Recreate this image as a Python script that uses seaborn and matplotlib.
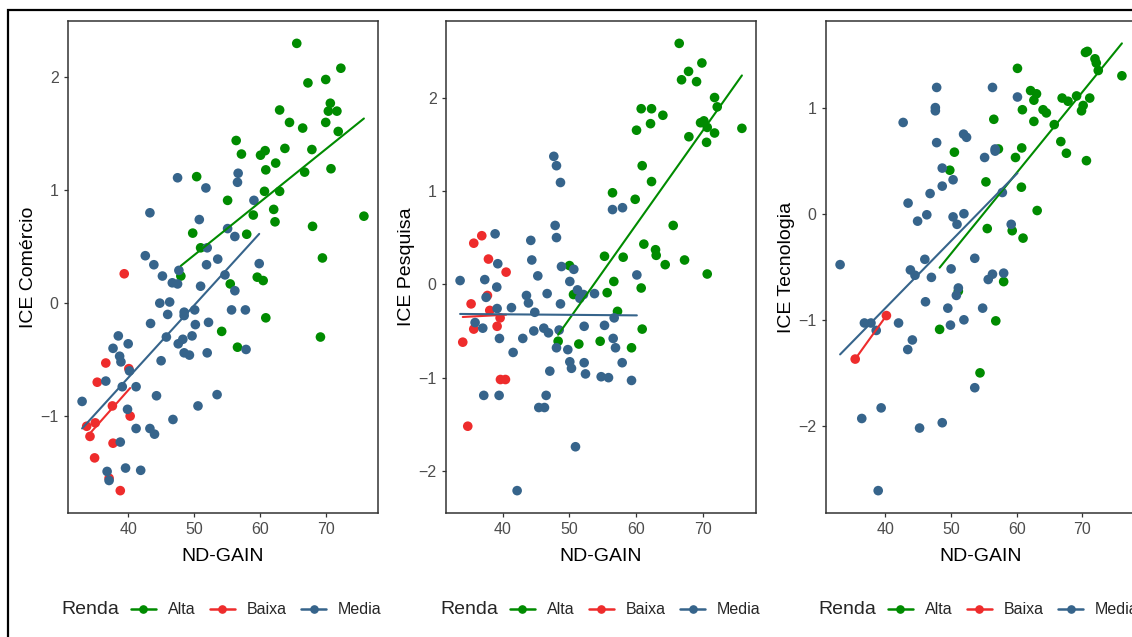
import numpy as np
import pandas as pd
import matplotlib
matplotlib.use("Agg")
import matplotlib.pyplot as plt
from matplotlib.lines import Line2D
from matplotlib.patches import Rectangle
from matplotlib.ticker import MultipleLocator
import seaborn as sns

# ── Data: ICE Comércio ───────────────────────────────────────────────────────
com_alta_x = [65.6, 67.3, 70.0, 72.3, 70.7, 70.4, 71.7, 63.0, 64.5, 66.5, 70.0, 71.9, 56.4, 57.2, 60.1,
              60.8, 63.8, 67.9, 62.4, 60.9, 66.8, 70.8, 50.4, 60.7, 63.0, 55.1, 59.0, 62.1, 62.3, 68.0,
              75.8, 49.8, 58.0, 51.0, 69.5, 48.0, 55.5, 59.6, 60.5, 60.9, 54.2, 56.6, 69.2]
com_alta_y = [2.30, 1.95, 1.98, 2.08, 1.77, 1.70, 1.70, 1.71, 1.60, 1.55, 1.60, 1.52, 1.44, 1.32, 1.31,
              1.35, 1.37, 1.36, 1.24, 1.18, 1.16, 1.19, 1.12, 0.99, 0.99, 0.91, 0.78, 0.83, 0.72, 0.68,
              0.77, 0.62, 0.61, 0.49, 0.40, 0.24, 0.17, 0.23, 0.20, -0.13, -0.25, -0.39, -0.30]
com_baixa_x = [39.4, 36.6, 40.1, 35.3, 37.6, 40.3, 35.0, 33.7, 34.2, 37.7, 34.9, 38.8, 37.1]
com_baixa_y = [0.26, -0.53, -0.58, -0.70, -0.91, -1.00, -1.06, -1.09, -1.18, -1.24, -1.37, -1.66, -1.55]
com_media_x = [47.5, 51.8, 56.7, 56.6, 43.3, 50.8, 55.1, 56.2, 59.1, 52.0, 42.6, 43.9, 53.6, 51.9, 59.9,
               47.7, 45.2, 46.7, 47.5, 51.0, 54.7, 56.2, 44.8, 46.3, 46.0, 48.5, 48.5, 50.1, 55.7, 57.8,
               43.4, 50.2, 52.2, 38.5, 40.0, 45.8, 49.7, 48.3, 47.6, 37.7, 38.7, 38.9, 48.5, 49.3, 52.0,
               57.9, 45.0, 40.2, 36.6, 41.2, 39.1, 44.3, 33.0, 53.5, 50.6, 39.9, 46.8, 41.2, 43.3, 44.0,
               38.8, 36.8, 37.1, 39.6, 41.9]
com_media_y = [1.11, 1.02, 1.15, 1.07, 0.80, 0.74, 0.66, 0.59, 0.91, 0.49, 0.42, 0.34, 0.39, 0.34, 0.35,
               0.29, 0.24, 0.18, 0.17, 0.15, 0.25, 0.11, 0.00, 0.01, -0.10, -0.08, -0.11, -0.06, -0.06, -0.06,
               -0.18, -0.19, -0.17, -0.29, -0.36, -0.30, -0.29, -0.32, -0.36, -0.40, -0.47, -0.52, -0.44, -0.46, -0.44,
               -0.41, -0.51, -0.60, -0.69, -0.74, -0.74, -0.82, -0.87, -0.81, -0.91, -0.94, -1.03, -1.11, -1.11, -1.16,
               -1.23, -1.49, -1.57, -1.46, -1.48]

# ── Data: ICE Pesquisa ───────────────────────────────────────────────────────
pes_alta_x = [66.45, 69.85, 67.85, 66.8, 69.05, 71.75, 72.15, 60.75, 62.3, 64.0, 62.15, 69.65, 70.15, 70.65, 60.05,
              67.9, 71.75, 75.85, 70.55, 60.9, 62.3, 56.45, 59.85, 65.55, 61.15, 62.9, 63.0, 55.25, 58.05, 67.25,
              64.35, 50.0, 70.65, 56.65, 60.75, 50.6, 55.65, 57.2, 60.9, 48.3, 51.4, 54.6, 59.3]
pes_alta_y = [2.58, 2.37, 2.28, 2.19, 2.17, 2.00, 1.90, 1.88, 1.88, 1.81, 1.72, 1.73, 1.75, 1.68, 1.65,
              1.58, 1.62, 1.67, 1.52, 1.27, 1.10, 0.98, 0.91, 0.63, 0.43, 0.37, 0.31, 0.30, 0.29, 0.26,
              0.21, 0.20, 0.11, 0.03, -0.04, -0.11, -0.09, -0.29, -0.48, -0.61, -0.64, -0.61, -0.68]
pes_baixa_x = [35.65, 36.85, 37.85, 40.5, 37.7, 35.25, 38.05, 39.6, 35.65, 39.15, 34.0, 39.65, 40.4, 34.75]
pes_baixa_y = [0.44, 0.52, 0.27, 0.13, -0.12, -0.21, -0.28, -0.36, -0.48, -0.45, -0.62, -1.02, -1.02, -1.52]
pes_media_x = [47.65, 48.05, 48.65, 56.45, 57.95, 47.85, 48.05, 38.85, 44.2, 44.35, 39.25, 48.8, 50.65, 33.6, 37.3,
               45.25, 39.1, 50.05, 60.1, 37.5, 46.65, 51.2, 51.55, 52.1, 53.75, 43.55, 43.85, 48.65, 41.3, 39.15,
               44.8, 56.7, 35.85, 37.0, 46.15, 46.85, 48.45, 52.2, 55.25, 44.65, 43.0, 39.5, 48.05, 49.75, 56.55,
               56.9, 41.55, 50.05, 50.3, 52.2, 57.9, 47.05, 52.4, 54.75, 55.85, 59.3, 37.15, 39.45, 46.5, 45.4,
               46.25, 50.9, 42.15]
pes_media_y = [1.37, 1.27, 1.09, 0.80, 0.82, 0.63, 0.50, 0.54, 0.47, 0.26, 0.22, 0.19, 0.16, 0.04, 0.05,
               0.09, -0.03, 0.03, 0.10, -0.14, -0.10, -0.06, -0.15, -0.11, -0.10, -0.12, -0.20, -0.21, -0.25, -0.26,
               -0.30, -0.36, -0.41, -0.47, -0.47, -0.52, -0.49, -0.45, -0.44, -0.50, -0.58, -0.58, -0.68, -0.70, -0.58,
               -0.68, -0.73, -0.83, -0.90, -0.84, -0.84, -0.93, -0.96, -0.99, -1.00, -1.03, -1.19, -1.19, -1.19, -1.32,
               -1.32, -1.74, -2.21]

# ── Data: ICE Tecnologia ─────────────────────────────────────────────────────
tec_alta_x = [70.45, 70.75, 71.9, 72.1, 72.4, 76.0, 60.1, 62.1, 63.0, 62.6, 60.85, 64.0, 64.5, 62.6, 56.5,
              65.7, 66.9, 67.8, 69.1, 71.1, 69.85, 70.1, 57.2, 60.75, 50.5, 66.7, 67.55, 70.6, 59.8, 49.8,
              55.3, 60.7, 63.1, 55.5, 59.3, 60.95, 51.1, 58.0, 56.8, 48.25, 54.4]
tec_alta_y = [1.52, 1.53, 1.46, 1.42, 1.35, 1.30, 1.37, 1.16, 1.13, 1.07, 0.98, 0.98, 0.95, 0.87, 0.89,
              0.84, 1.09, 1.06, 1.11, 1.09, 0.97, 1.02, 0.61, 0.62, 0.58, 0.68, 0.57, 0.50, 0.53, 0.41,
              0.30, 0.25, 0.03, -0.14, -0.16, -0.23, -0.73, -0.64, -1.01, -1.09, -1.50]
tec_baixa_x = [35.4, 40.15]
tec_baixa_y = [-1.37, -0.96]
tec_media_x = [47.8, 56.3, 47.6, 47.6, 42.7, 60.1, 51.9, 52.35, 47.8, 56.7, 56.7, 55.1, 48.65, 50.3, 48.65,
               46.8, 57.8, 43.45, 46.3, 51.95, 50.3, 50.9, 44.9, 59.15, 53.6, 46.0, 33.1, 43.8, 44.5, 47.0,
               50.0, 55.65, 56.3, 58.0, 51.1, 50.8, 46.1, 49.5, 54.8, 51.95, 49.9, 36.8, 37.8, 38.6, 42.0,
               44.1, 43.4, 53.6, 36.4, 39.35, 45.2, 48.65, 38.9]
tec_media_y = [1.19, 1.19, 1.00, 0.97, 0.86, 1.10, 0.75, 0.72, 0.67, 0.59, 0.61, 0.53, 0.43, 0.32, 0.26,
               0.19, 0.20, 0.10, -0.01, 0.00, -0.03, -0.10, -0.07, -0.10, -0.42, -0.43, -0.48, -0.53, -0.58, -0.60,
               -0.52, -0.62, -0.57, -0.56, -0.70, -0.77, -0.83, -0.89, -0.89, -1.00, -1.05, -1.03, -1.03, -1.10, -1.03,
               -1.19, -1.28, -1.64, -1.93, -1.83, -2.02, -1.97, -2.61]

GROUPS = ["Alta", "Baixa", "Media"]
PALETTE = {"Alta": "#008B00", "Baixa": "#EE2C2C", "Media": "#36648B"}


def make_df(ax_, ay_, bx_, by_, mx_, my_):
    parts = []
    for g, xs, ys in zip(GROUPS, [ax_, bx_, mx_], [ay_, by_, my_]):
        parts.append(pd.DataFrame({"ND-GAIN": xs, "ICE": ys, "Renda": g}))
    return pd.concat(parts, ignore_index=True)


df_com = make_df(com_alta_x, com_alta_y, com_baixa_x, com_baixa_y, com_media_x, com_media_y)
df_pes = make_df(pes_alta_x, pes_alta_y, pes_baixa_x, pes_baixa_y, pes_media_x, pes_media_y)
df_tec = make_df(tec_alta_x, tec_alta_y, tec_baixa_x, tec_baixa_y, tec_media_x, tec_media_y)

# ── Figure ───────────────────────────────────────────────────────────────────
sns.set_theme(style="white")
plt.rcParams["font.family"] = ["Liberation Sans", "DejaVu Sans"]

W, H = 1132, 637
fig = plt.figure(figsize=(W / 100, H / 100), dpi=100)
fig.patch.set_facecolor("white")


def px_box(left, top, width, height):
    return [left / W, 1 - (top + height) / H, width / W, height / H]


# (axes left px, y label, data, legend start px)
panels = [
    (68, "ICE Comércio", df_com, 61),
    (446, "ICE Pesquisa", df_pes, 440),
    (826, "ICE Tecnologia", df_tec, 818),
]

for left, ylabel, df, leg_x in panels:
    ax = fig.add_axes(px_box(left, 21, 310, 492))
    sns.scatterplot(data=df, x="ND-GAIN", y="ICE", hue="Renda", hue_order=GROUPS,
                    palette=PALETTE, s=48, linewidth=0, legend=False, ax=ax, zorder=2)
    for g in GROUPS:
        sub = df[df["Renda"] == g]
        sns.regplot(data=sub, x="ND-GAIN", y="ICE", scatter=False, ci=None,
                    color=PALETTE[g], line_kws={"lw": 1.5, "zorder": 3}, ax=ax)

    ax.xaxis.set_major_locator(MultipleLocator(10))
    ax.yaxis.set_major_locator(MultipleLocator(1))
    ax.tick_params(direction="out", length=3.2, width=0.9, color="#333333",
                   labelcolor="#4D4D4D", labelsize=11.5, bottom=True, left=True, pad=3.5)
    for sp in ax.spines.values():
        sp.set_visible(True)
        sp.set_color("#333333")
        sp.set_linewidth(1.1)
    ax.grid(False)
    ax.set_xlabel("ND-GAIN", fontsize=14, color="black")
    ax.set_ylabel(ylabel, fontsize=14, color="black")
    ax.yaxis.set_label_coords(-0.10, 0.5)
    ax.xaxis.set_label_coords(0.5, -0.071)

    # legend row under each panel
    fig.text(leg_x / W, 27 / H, "Renda", fontsize=14, va="center", ha="left")
    handles = [Line2D([0], [0], color=PALETTE[g], marker="o", markersize=5.2, lw=1.8)
               for g in GROUPS]
    fig.legend(handles, GROUPS, loc="center left", bbox_to_anchor=((leg_x + 70) / W, 27 / H),
               ncol=3, frameon=False, fontsize=11.5, handlelength=1.56, handletextpad=0.75,
               columnspacing=0.9, borderpad=0, borderaxespad=0)

# outer frame (cropped on the right and bottom)
fig.add_artist(Rectangle((8 / W, -0.05), 1.2, (1 - 10 / H) + 0.05, transform=fig.transFigure,
                         fill=False, ec="black", lw=1.6))

fig.savefig("out.png", dpi=100, facecolor="white")
